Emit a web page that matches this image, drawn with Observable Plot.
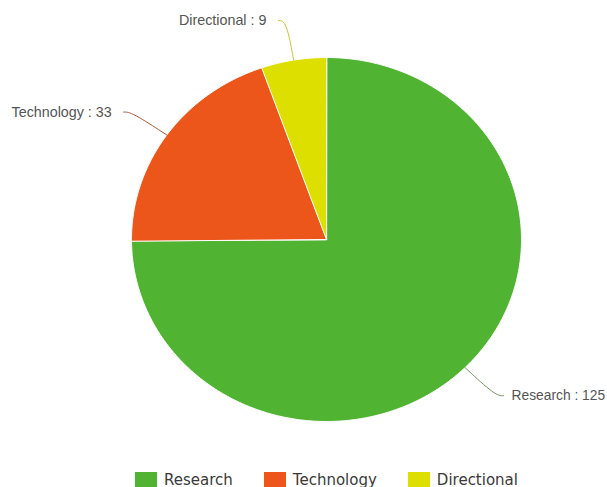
<!DOCTYPE html>
<html><head><meta charset="utf-8">
<script src="https://cdn.jsdelivr.net/npm/d3@7"></script>
<script src="https://cdn.jsdelivr.net/npm/@observablehq/plot@0.6"></script>
<style>
body{margin:0;background:#fff;}
#legend{margin-left:135px;}
#legend, #legend *{font-family:"DejaVu Sans",sans-serif !important;font-size:15px !important;color:#3a3a3a !important;}
#legend [class$="-swatch"]{margin-right:31px !important;}
#legend [class$="-swatch"] > svg{margin-right:7px !important;}
</style></head><body>
<div id="chart"></div>
<div id="legend"></div>
<script>
const categories = ["Research", "Technology", "Directional"];
const values = [125, 33, 9];
const colors = ["#50B432", "#ED561B", "#DDDF00"];
const connectorColors = ["#6f9a62", "#a95a3a", "#c8c23a"];

const data = categories.map((c, i) => ({name: c, value: values[i]}));
const arcs = d3.pie().sort(null).value(d => d.value)(data);

// slice polygons (geometry derived from pie angles)
const slicePts = [];
arcs.forEach(a => {
  slicePts.push({name: a.data.name, x: 0, y: 0});
  const n = Math.max(4, Math.ceil((a.endAngle - a.startAngle) / 0.01));
  for (let k = 0; k <= n; k++) {
    const t = a.startAngle + (a.endAngle - a.startAngle) * k / n;
    slicePts.push({name: a.data.name, x: Math.sin(t), y: Math.cos(t)});
  }
});

const xPx = 195; // px per data unit horizontally
const outer = 1.22;
const labels = arcs.map((a, i) => {
  const m = (a.startAngle + a.endAngle) / 2;
  const side = Math.sin(m) < 0 ? -1 : 1;
  return {name: a.data.name, text: `${a.data.name} : ${a.data.value}`, side,
          mx: Math.sin(m), my: Math.cos(m), x: outer * Math.sin(m), y: outer * Math.cos(m)};
});
const conn = [];
labels.forEach(l => {
  conn.push({name: l.name, x: l.x + l.side * 8 / xPx, y: l.y});
  conn.push({name: l.name, x: l.x, y: l.y});
  conn.push({name: l.name, x: l.mx, y: l.my});
});

const chart = Plot.plot({
  width: 607,
  height: 463,
  x: {domain: [-1, 1], range: [131, 521], axis: null},
  y: {domain: [-1, 1], range: [421, 57], axis: null},
  color: {domain: categories, range: colors},
  style: {background: "#fff"},
  marks: [
    Plot.line(slicePts, {x: "x", y: "y", z: "name", fill: "name", stroke: "#fff", strokeWidth: 1, curve: "linear-closed"}),
    Plot.line(conn, {x: "x", y: "y", z: "name", stroke: d => connectorColors[categories.indexOf(d.name)], strokeWidth: 1, curve: "basis"}),
    Plot.text(labels.filter(l => l.side < 0), {x: "x", y: "y", text: "text", textAnchor: "end", dx: -20, fontSize: 14.3, fontFamily: "Liberation Sans, Arial, sans-serif", fill: "#555"}),
    Plot.text(labels.filter(l => l.side > 0), {x: "x", y: "y", text: "text", textAnchor: "start", dx: 16, fontSize: 13.8, fontFamily: "Liberation Sans, Arial, sans-serif", fill: "#555"})
  ]
});
document.getElementById("chart").appendChild(chart);

const legend = Plot.legend({color: {domain: categories, range: colors}, legend: "swatches", swatchWidth: 22, swatchHeight: 16});
document.getElementById("legend").appendChild(legend);
</script>
</body></html>
